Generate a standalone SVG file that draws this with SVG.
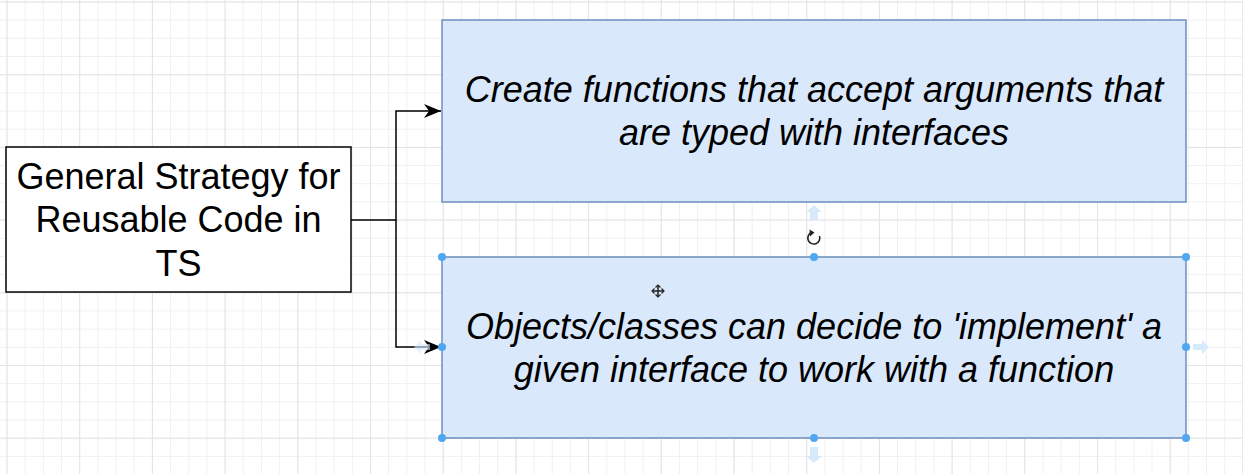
<svg xmlns="http://www.w3.org/2000/svg" width="1243" height="474" viewBox="0 0 1243 474">
<style>
.lbl{font-family:"Liberation Sans",Arial,sans-serif;font-size:36px;fill:#000;text-anchor:middle}
.it{font-style:italic}
.blue{fill:#dae8fc;stroke:#6c8ebf;stroke-width:1.5}
.conn{fill:none;stroke:#000;stroke-width:1.5}
.h{fill:#4fa7f0}
.ghost{fill:#d6eafb}
</style>
<defs>
<pattern id="minor" patternUnits="userSpaceOnUse" x="6.5" y="1.5" width="18.175" height="18.175">
<path d="M0 0.5H18.175M0.5 0V18.175" fill="none" stroke="#f0f0f0" stroke-width="1"/>
</pattern>
<pattern id="major" patternUnits="userSpaceOnUse" x="6.5" y="1.5" width="72.7" height="72.7">
<path d="M0 0.5H72.7M0.5 0V72.7" fill="none" stroke="#e4e4e4" stroke-width="1"/>
</pattern>
<marker id="arr" markerWidth="18" markerHeight="16" refX="17" refY="8" orient="auto" markerUnits="userSpaceOnUse">
<path d="M0 1L17 8L0 15L5 8Z" fill="#000"/>
</marker>
</defs>
<rect width="1243" height="474" fill="#fff"/>
<rect width="1243" height="474" fill="url(#minor)"/>
<rect width="1243" height="474" fill="url(#major)"/>

<g id="connectors">
<path class="conn" d="M351 220H396V111H441" marker-end="url(#arr)"/>
<path class="conn" d="M396 220V347H441" marker-end="url(#arr)"/>
</g>

<g id="node-strategy">
<rect x="6" y="147" width="345" height="145" fill="#fff" stroke="#000" stroke-width="1.5"/>
<text class="lbl" x="178.5" y="188.5">General Strategy for</text>
<text class="lbl" x="178.5" y="232">Reusable Code in</text>
<text class="lbl" x="178.5" y="275.5">TS</text>
</g>

<g id="node-functions">
<rect class="blue" x="442" y="20" width="744" height="182"/>
<text class="lbl it" x="814" y="102">Create functions that accept arguments that</text>
<text class="lbl it" x="814" y="145">are typed with interfaces</text>
</g>

<g id="node-objects">
<rect class="blue" x="442" y="257" width="744" height="181" stroke="#7aa8dc"/>
<text class="lbl it" x="814" y="339">Objects/classes can decide to 'implement' a</text>
<text class="lbl it" x="814" y="382">given interface to work with a function</text>
</g>

<g id="selection">
<path class="ghost" d="M810 220V212H806L814 205L822 212H818V220Z"/>
<path class="ghost" d="M810 447V456H806L814 463L822 456H818V447Z"/>
<path class="ghost" d="M1193 344H1202V340L1209 347L1202 354V350H1193Z"/>
<path class="ghost" d="M430 344H421V340L414 347L421 354V350H430Z" opacity="0.6"/>
<circle class="h" cx="442" cy="257" r="4"/>
<circle class="h" cx="814" cy="257" r="4"/>
<circle class="h" cx="1186" cy="257" r="4"/>
<circle class="h" cx="442" cy="347" r="4"/>
<circle class="h" cx="1186" cy="347" r="4"/>
<circle class="h" cx="442" cy="438" r="4"/>
<circle class="h" cx="814" cy="438" r="4"/>
<circle class="h" cx="1186" cy="438" r="4"/>
<path d="M819.5 236A6 6 0 1 1 812 232.3" fill="none" stroke="#222" stroke-width="1.6"/>
<path d="M809.5 229.5L814.5 232.5L810 236.5Z" fill="#222"/>
<path d="M658 285V297M652 291H664" stroke="#222" stroke-width="1.5"/>
<path d="M655.5 287.5L658 285L660.5 287.5M655.5 294.5L658 297L660.5 294.5M654.5 288.5L652 291L654.5 293.5M661.5 288.5L664 291L661.5 293.5" fill="none" stroke="#222" stroke-width="1.2"/>
</g>
</svg>
